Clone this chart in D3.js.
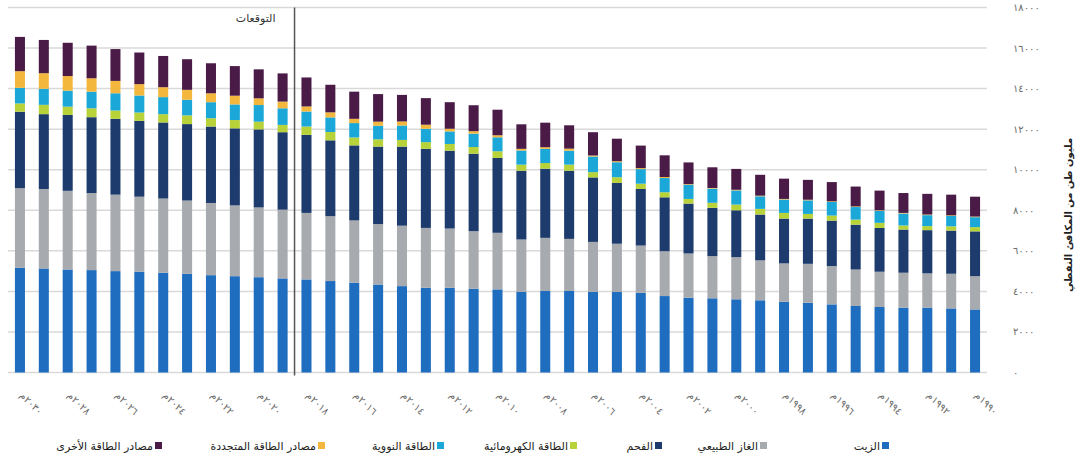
<!DOCTYPE html>
<html>
<head>
<meta charset="utf-8">
<script src="https://cdn.jsdelivr.net/npm/d3@7"></script>
<style>
    body { margin: 0; background: #fff; }
    svg { display: block; }
    .grid line { stroke: #d9d9d9; stroke-width: 1.5; }
    .tick-label { font-family: "DejaVu Sans", sans-serif; font-size: 10px; fill: #6b6b6b; letter-spacing: 1px; }
    .legend-label { font-family: "DejaVu Sans", sans-serif; font-size: 11px; fill: #222; }
</style>
</head>
<body>
<svg></svg>
<script>
var width = 1083,
    height = 464;

var plot = { left: 8, right: 987, top: 7.5, bottom: 372.5 };

// years, newest first (chart reads right to left)
var years = [2030, 2029, 2028, 2027, 2026, 2025, 2024, 2023, 2022, 2021,
    2020, 2019, 2018, 2017, 2016, 2015, 2014, 2013, 2012, 2011,
    2010, 2009, 2008, 2007, 2006, 2005, 2004, 2003, 2002, 2001,
    2000, 1999, 1998, 1997, 1996, 1995, 1994, 1993, 1992, 1991, 1990];

// million tonnes of oil equivalent
var oil = [5160, 5130, 5080, 5050, 5000, 4970, 4920, 4870, 4800, 4750,
    4700, 4640, 4590, 4510, 4430, 4340, 4260, 4180, 4180, 4130,
    4100, 3970, 4020, 4020, 3980, 3970, 3930, 3770, 3690, 3660,
    3610, 3560, 3490, 3440, 3360, 3280, 3230, 3200, 3200, 3160, 3110];
var gas = [3930, 3920, 3880, 3800, 3770, 3700, 3660, 3610, 3560, 3490,
    3440, 3390, 3280, 3200, 3070, 2980, 2980, 2950, 2920, 2840,
    2790, 2590, 2620, 2570, 2460, 2380, 2330, 2210, 2180, 2080,
    2080, 1970, 1890, 1920, 1890, 1800, 1740, 1720, 1690, 1710, 1640];
var coal = [3770, 3690, 3740, 3740, 3740, 3740, 3750, 3770, 3770, 3800,
    3850, 3820, 3850, 3740, 3700, 3820, 3900, 3900, 3840, 3820,
    3690, 3390, 3410, 3360, 3180, 3000, 2790, 2660, 2460, 2380,
    2310, 2260, 2210, 2230, 2240, 2210, 2160, 2130, 2130, 2130, 2210];
var hydro = [410, 460, 410, 440, 410, 410, 410, 430, 410, 410,
    380, 360, 410, 410, 390, 360, 330, 330, 330, 330,
    330, 300, 280, 300, 260, 280, 260, 250, 230, 250,
    280, 280, 280, 230, 250, 250, 250, 200, 200, 210, 210];
var nuclear = [770, 790, 790, 820, 850, 840, 840, 770, 790, 770,
    820, 820, 740, 720, 710, 670, 710, 660, 620, 660,
    690, 700, 700, 690, 770, 740, 720, 700, 700, 700,
    700, 620, 660, 670, 670, 620, 590, 590, 540, 510, 490];
var renewables = [820, 770, 720, 660, 610, 560, 490, 490, 440, 430,
    330, 330, 250, 250, 210, 200, 200, 200, 130, 120,
    100, 80, 80, 100, 50, 50, 50, 50, 30, 30,
    30, 30, 30, 30, 30, 30, 30, 30, 30, 30, 30];
var other = [1690, 1640, 1640, 1610, 1570, 1560, 1540, 1510, 1480, 1460,
    1430, 1390, 1430, 1360, 1340, 1360, 1310, 1310, 1310, 1280,
    1260, 1210, 1210, 1150, 1150, 1110, 1110, 1070, 1070, 1020,
    1030, 1030, 1000, 980, 950, 980, 970, 980, 1020, 1020, 980];

var seriesKeys = ["oil", "gas", "coal", "hydro", "nuclear", "renewables", "other"];
var seriesNames = ["الزيت", "الغاز الطبيعي", "الفحم", "الطاقة الكهرومائية",
    "الطاقة النووية", "مصادر الطاقة المتجددة", "مصادر الطاقة الأخرى"];
var seriesColors = ["#1f6dbf", "#a7aaae", "#1d3b6c", "#b8d23a", "#1ba8d8", "#f4b73e", "#4a1b46"];

var yTicks = [0, 2000, 4000, 6000, 8000, 10000, 12000, 14000, 16000, 18000];
var labelYears = [2030, 2028, 2026, 2024, 2022, 2020, 2018, 2016, 2014, 2012,
    2010, 2008, 2006, 2004, 2002, 2000, 1998, 1996, 1994, 1992, 1990];

var forecastAfter = 2019; // last forecast year, line drawn after it
var forecastLabel = "التوقعات";
var yTitle = "مليون طن من المكافئ النفطي";

// legend square positions (from the right, RTL)
var legendX = [882, 760, 655, 570, 437, 318, 155];

function arabicDigits(n) {
    return String(n).replace(/[0-9]/g, function(c) {
        return "٠١٢٣٤٥٦٧٨٩"[+c];
    });
}

var table = years.map(function(yr, i) {
    return {
        year: yr,
        oil: oil[i], gas: gas[i], coal: coal[i], hydro: hydro[i],
        nuclear: nuclear[i], renewables: renewables[i], other: other[i]
    };
});

var svg = d3.select("svg")
    .attr("width", width)
    .attr("height", height);

var x = d3.scaleBand()
    .domain(years)
    .range([plot.left, plot.right])
    .paddingInner(0.58)
    .paddingOuter(0.29);

var y = d3.scaleLinear()
    .domain([0, 18000])
    .range([plot.bottom, plot.top]);

// grid lines
svg.append("g")
    .attr("class", "grid")
    .selectAll("line")
    .data(yTicks)
    .enter().append("line")
    .attr("x1", plot.left)
    .attr("x2", plot.right)
    .attr("y1", function(d) { return y(d); })
    .attr("y2", function(d) { return y(d); });

// y tick labels on the right
svg.append("g")
    .selectAll("text")
    .data(yTicks)
    .enter().append("text")
    .attr("class", "tick-label")
    .attr("x", 1013)
    .attr("y", function(d) { return y(d); })
    .attr("dy", "0.35em")
    .text(function(d) { return arabicDigits(d); });

// stacked bars
var stack = d3.stack().keys(seriesKeys);
var layers = stack(table);

svg.append("g")
    .selectAll("g")
    .data(layers)
    .enter().append("g")
    .attr("fill", function(d, i) { return seriesColors[i]; })
    .selectAll("rect")
    .data(function(d) { return d; })
    .enter().append("rect")
    .attr("x", function(d) { return x(d.data.year); })
    .attr("width", x.bandwidth())
    .attr("y", function(d) { return y(d[1]); })
    .attr("height", function(d) { return y(d[0]) - y(d[1]); });

// forecast divider
var lineX = x(forecastAfter) + x.bandwidth() + (x.step() - x.bandwidth()) / 2;
svg.append("line")
    .attr("x1", lineX)
    .attr("x2", lineX)
    .attr("y1", plot.top)
    .attr("y2", plot.bottom + 3)
    .style("stroke", "#555")
    .style("stroke-width", 1.5);

svg.append("text")
    .attr("class", "legend-label")
    .attr("x", lineX - 19)
    .attr("y", 22)
    .attr("text-anchor", "end")
    .style("fill", "#333")
    .text(forecastLabel);

// x labels, rotated
svg.append("g")
    .selectAll("text")
    .data(labelYears)
    .enter().append("text")
    .attr("class", "tick-label")
    .attr("transform", function(d) {
        return "translate(" + (x(d) + x.bandwidth() / 2 - 1) + ",396) rotate(45)";
    })
    .text(function(d) { return arabicDigits(d) + "م"; });

// y axis title
svg.append("text")
    .attr("class", "legend-label")
    .attr("transform", "translate(1072,215) rotate(-90)")
    .attr("text-anchor", "middle")
    .style("font-weight", "bold")
    .style("font-size", "10px")
    .text(yTitle);

// legend
var legend = svg.append("g")
    .selectAll("g")
    .data(seriesNames)
    .enter().append("g")
    .attr("transform", function(d, i) { return "translate(" + legendX[i] + ",446)"; });

legend.append("rect")
    .attr("x", 0)
    .attr("y", -4)
    .attr("width", 7)
    .attr("height", 7)
    .attr("fill", function(d, i) { return seriesColors[i]; });

legend.append("text")
    .attr("class", "legend-label")
    .attr("x", -2)
    .attr("dy", "0.35em")
    .attr("text-anchor", "end")
    .text(function(d) { return d; });
</script>
</body>
</html>
